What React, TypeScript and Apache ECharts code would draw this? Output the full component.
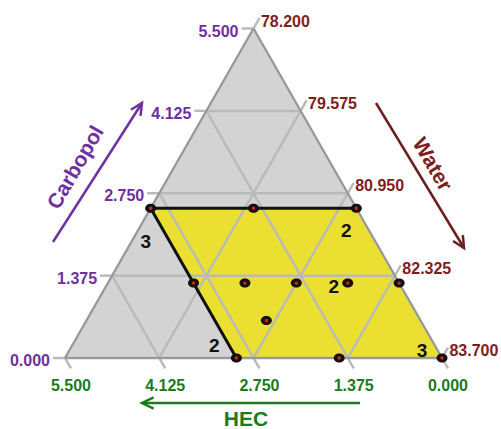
import { useEffect, useRef } from 'react';
import * as echarts from 'echarts';

// Mixture: Carbopol + HEC + Water = 83.7, each pseudo-component spans 5.5
const COMPONENT_RANGE = 5.5;
const WATER_LOW = 78.2;

const carbopolTicks = [0, 1.375, 2.75, 4.125, 5.5];
const waterTicks = [78.2, 79.575, 80.95, 82.325, 83.7];
const hecTicks = [5.5, 4.125, 2.75, 1.375, 0];

// Feasible design region (Carbopol <= 2.5, HEC <= 3.0)
const regionCarbopol = [2.5, 2.5, 0, 0];
const regionWater = [78.2, 81.2, 83.7, 80.7];

// Design runs
const runCarbopol = [2.5, 2.5, 2.5, 1.25, 1.25, 1.25, 1.25, 1.25, 0.625, 0, 0, 0];
const runWater = [78.2, 79.7, 81.2, 79.45, 80.2, 80.95, 81.7, 82.45, 80.825, 80.7, 82.2, 83.7];
const runHec = [3.0, 1.5, 0, 3.0, 2.25, 1.5, 0.75, 0, 2.25, 3.0, 1.5, 0];
const runReplicates = [3, 1, 2, 1, 1, 1, 2, 1, 1, 2, 1, 3];

// Where each replicate count sits relative to its run (pixels)
const replicateLabelOffset: Record<number, [number, number]> = {
  0: [-5, 33],
  2: [-10, 22],
  6: [-14, 3],
  9: [-22, -13],
  11: [-20, -8],
};

const FONT = '"Liberation Sans", Arial, sans-serif';
const PURPLE = '#7030a0';
const BROWN = '#7f1d1d';
const GREEN = '#1d7a1d';
const GRID = '#bababa';
const TICK_LEN = 12;

// barycentric fractions (Carbopol = top, Water = bottom-right, HEC = bottom-left) -> cartesian
const toXY = (a: number, b: number): [number, number] => [b + a / 2, a];
const fracCarbopol = (v: number) => v / COMPONENT_RANGE;
const fracWater = (v: number) => (v - WATER_LOW) / COMPONENT_RANGE;
const fracHec = (v: number) => v / COMPONENT_RANGE;

const unit = (p: number[], q: number[]) => {
  const dx = q[0] - p[0];
  const dy = q[1] - p[1];
  const l = Math.hypot(dx, dy);
  return [dx / l, dy / l];
};

function arrow(x1: number, y1: number, x2: number, y2: number, color: string) {
  const [ux, uy] = unit([x1, y1], [x2, y2]);
  const len = 13;
  const ang = (26 * Math.PI) / 180;
  const arm = (s: number) => {
    const c = Math.cos(s * ang);
    const sn = Math.sin(s * ang);
    const rx = ux * c - uy * sn;
    const ry = ux * sn + uy * c;
    return [x2 - rx * len, y2 - ry * len];
  };
  return {
    type: 'group',
    children: [
      { type: 'line', shape: { x1, y1, x2, y2 }, style: { stroke: color, lineWidth: 2.5 } },
      {
        type: 'polyline',
        shape: { points: [arm(1), [x2, y2], arm(-1)] },
        style: { stroke: color, lineWidth: 2.5, fill: null },
      },
    ],
  };
}

export default function App() {
  const ref = useRef<HTMLDivElement>(null);

  useEffect(() => {
    if (!ref.current) return;
    const chart = echarts.init(ref.current, null, { renderer: 'svg' });

    const frameSeries = {
      type: 'custom',
      coordinateSystem: 'cartesian2d',
      silent: true,
      z: 1,
      data: [[0, 0]],
      renderItem: (_p: any, api: any) => {
        const P = (a: number, b: number) => api.coord(toXY(a, b));
        return {
          type: 'polygon',
          shape: { points: [P(1, 0), P(0, 0), P(0, 1)] },
          style: { fill: '#d3d3d3' },
        };
      },
    };

    const regionSeries = {
      type: 'custom',
      coordinateSystem: 'cartesian2d',
      silent: true,
      z: 2,
      data: [[0, 0]],
      renderItem: (_p: any, api: any) => ({
        type: 'polygon',
        shape: {
          points: regionCarbopol.map((c, i) =>
            api.coord(toXY(fracCarbopol(c), fracWater(regionWater[i])))
          ),
        },
        style: { fill: '#ebe031' },
      }),
    };

    const gridSeries = {
      type: 'custom',
      coordinateSystem: 'cartesian2d',
      silent: true,
      z: 3,
      data: [[0, 0]],
      renderItem: (_p: any, api: any) => {
        const P = (a: number, b: number) => api.coord(toXY(a, b));
        const children: any[] = [];
        const seg = (p: number[], q: number[], color = GRID, w = 2.5) =>
          children.push({
            type: 'line',
            shape: { x1: p[0], y1: p[1], x2: q[0], y2: q[1] },
            style: { stroke: color, lineWidth: w },
          });
        const text = (t: string, x: number, y: number, fill: string, align: string, va: string) =>
          children.push({
            type: 'text',
            style: { text: t, x, y, fill, font: `bold 16px ${FONT}`, align, verticalAlign: va },
          });

        const dirC = [-1, 0];
        const dirW = unit(P(0, 0), P(1, 0));
        const dirH = unit(P(1, 0), P(0, 1));

        carbopolTicks.forEach((v) => {
          const t = fracCarbopol(v);
          const p = P(t, 0);
          if (t > 0 && t < 1) seg(p, P(t, 1 - t));
          const e = [p[0] + dirC[0] * TICK_LEN, p[1] + dirC[1] * TICK_LEN];
          seg(p, e);
          text(v.toFixed(3), e[0] - 3, e[1] + 2.5, PURPLE, 'right', 'middle');
        });
        waterTicks.forEach((v) => {
          const t = fracWater(v);
          const q = P(1 - t, t);
          if (t > 0 && t < 1) seg(P(0, t), q);
          const e = [q[0] + dirW[0] * TICK_LEN, q[1] + dirW[1] * TICK_LEN];
          seg(q, e);
          text(v.toFixed(3), e[0] + 1.5, e[1] + 3, BROWN, 'left', 'middle');
        });
        hecTicks.forEach((v) => {
          const t = fracHec(v);
          const q = P(0, 1 - t);
          if (t > 0 && t < 1) seg(P(1 - t, 0), q);
          const e = [q[0] + dirH[0] * TICK_LEN, q[1] + dirH[1] * TICK_LEN];
          seg(q, e);
          text(v.toFixed(3), e[0], e[1] + 17, GREEN, 'center', 'middle');
        });

        // triangle outline
        const A = P(1, 0);
        const B = P(0, 0);
        const C = P(0, 1);
        seg(A, B, '#a3a3a3', 2.5);
        seg(B, C, '#a3a3a3', 2.5);
        seg(C, A, '#a3a3a3', 2.5);
        seg(A, B, '#8a8a8a', 0.8);
        seg(B, C, '#8a8a8a', 0.8);
        seg(C, A, '#8a8a8a', 0.8);
        return { type: 'group', children };
      },
    };

    // Upper limits of Carbopol and HEC drawn as bold constraint lines
    const constraintSeries = {
      type: 'custom',
      coordinateSystem: 'cartesian2d',
      silent: true,
      z: 4,
      data: [[0, 0]],
      renderItem: (_p: any, api: any) => {
        const V = regionCarbopol.map((c, i) =>
          api.coord(toXY(fracCarbopol(c), fracWater(regionWater[i])))
        );
        return {
          type: 'polyline',
          shape: { points: [V[1], V[0], V[3]] },
          style: { stroke: '#111', lineWidth: 3, fill: null },
        };
      },
    };

    const runSeries = {
      type: 'custom',
      coordinateSystem: 'cartesian2d',
      silent: true,
      z: 5,
      data: runCarbopol.map((c, i) => [
        ...toXY(fracCarbopol(c), fracWater(runWater[i])),
        runHec[i],
        runReplicates[i],
        i,
      ]),
      renderItem: (_p: any, api: any) => {
        const [px, py] = api.coord([api.value(0), api.value(1)]);
        const reps = api.value(3);
        const idx = api.value(4);
        const children: any[] = [
          { type: 'ellipse', shape: { cx: px, cy: py, rx: 5.5, ry: 4.5 }, style: { fill: '#111' } },
          { type: 'circle', shape: { cx: px, cy: py, r: 1.7 }, style: { fill: '#e4201b' } },
        ];
        if (reps > 1) {
          const off = replicateLabelOffset[idx] || [-12, 0];
          children.push({
            type: 'text',
            style: {
              text: String(reps),
              x: px + off[0],
              y: py + off[1],
              fill: '#111',
              font: `bold 19px ${FONT}`,
              align: 'center',
              verticalAlign: 'middle',
            },
          });
        }
        return { type: 'group', children };
      },
    };

    chart.setOption({
      animation: false,
      backgroundColor: '#fff',
      grid: { left: 65, right: 59, top: 28.5, bottom: 71 },
      xAxis: { type: 'value', min: 0, max: 1, show: false },
      yAxis: { type: 'value', min: 0, max: 1, show: false },
      series: [frameSeries, regionSeries, gridSeries, constraintSeries, runSeries],
      graphic: [
        arrow(53, 242, 142, 103, PURPLE),
        {
          type: 'text',
          x: 75,
          y: 167,
          rotation: Math.PI / 3,
          style: {
            text: 'Carbopol',
            fill: PURPLE,
            font: `bold 21px ${FONT}`,
            align: 'center',
            verticalAlign: 'middle',
          },
        },
        arrow(376, 103, 464, 248, '#6b2020'),
        {
          type: 'text',
          x: 433,
          y: 164,
          rotation: -Math.PI / 3,
          style: {
            text: 'Water',
            fill: BROWN,
            font: `bold 21px ${FONT}`,
            align: 'center',
            verticalAlign: 'middle',
          },
        },
        arrow(360, 403, 142, 403, GREEN),
        {
          type: 'text',
          x: 246,
          y: 418,
          style: {
            text: 'HEC',
            fill: GREEN,
            font: `bold 21px ${FONT}`,
            align: 'center',
            verticalAlign: 'middle',
          },
        },
      ],
    });

    return () => chart.dispose();
  }, []);

  return (
    <div
      ref={ref}
      style={{ position: 'fixed', left: 0, top: 0, width: 501, height: 429, background: '#fff' }}
    />
  );
}
